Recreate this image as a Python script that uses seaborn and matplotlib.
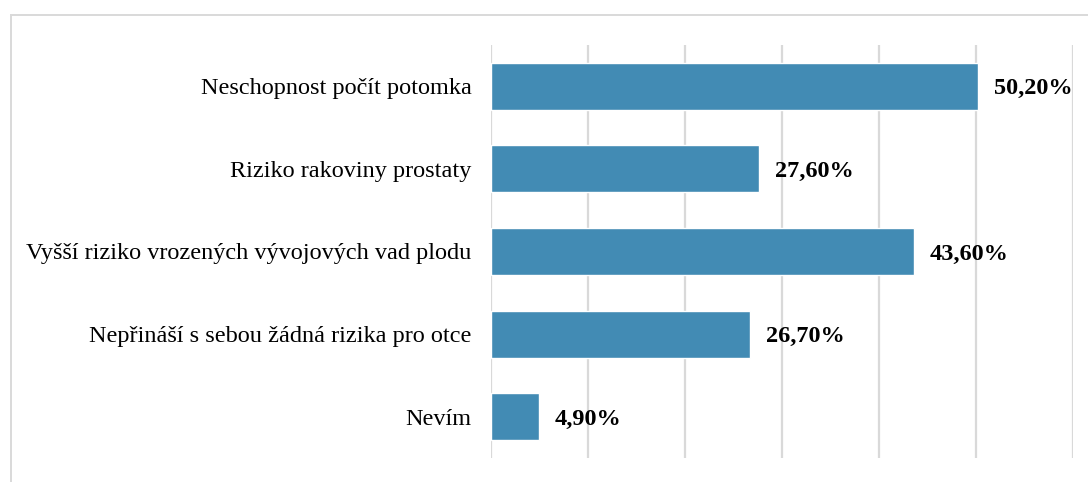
import matplotlib
matplotlib.use("Agg")
import matplotlib.pyplot as plt
import seaborn as sns
import pandas as pd
from matplotlib.patches import Rectangle

# data
categories = [
    "Neschopnost počít potomka",
    "Riziko rakoviny prostaty",
    "Vyšší riziko vrozených vývojových vad plodu",
    "Nepřináší s sebou žádná rizika pro otce",
    "Nevím",
]
values = [50.2, 27.6, 43.6, 26.7, 4.9]
value_labels = ["50,20%", "27,60%", "43,60%", "26,70%", "4,90%"]

df = pd.DataFrame({"kategorie": categories, "procento": values})

sns.set_style("white")
plt.rcParams["font.family"] = ["Liberation Serif", "DejaVu Serif"]
plt.rcParams["text.color"] = "black"
plt.rcParams["ytick.color"] = "black"
plt.rcParams["ytick.labelcolor"] = "black"

fig = plt.figure(figsize=(10.88, 4.82), dpi=100)
ax = fig.add_axes([491 / 1088, 1 - 458 / 482, (1073 - 491) / 1088, (458 - 45) / 482])

sns.barplot(data=df, x="procento", y="kategorie", order=categories,
            color="#428bb4", saturation=1, width=0.57, ax=ax)

ax.set_xlim(0, 60)
ax.set_ylim(4.5, -0.5)
ax.set_xticks(range(0, 61, 10))
ax.grid(axis="x", color="#d9d9d9", linewidth=1.6)
ax.set_axisbelow(True)
ax.set_xticklabels([])
ax.tick_params(axis="y", length=0, pad=14, labelsize=17.5, labelcolor="black")
ax.tick_params(axis="x", length=0)
ax.set_xlabel("")
ax.set_ylabel("")
for s in ax.spines.values():
    s.set_visible(False)

# bold value labels next to the bars
for i, (v, lab) in enumerate(zip(values, value_labels)):
    ax.annotate(lab, (v, i), xytext=(11.5, 0), textcoords="offset points",
                va="center_baseline", ha="left", fontsize=17.5,
                fontweight="bold", color="black")

# light frame around the chart area (cropped at right and bottom)
fig.patches.append(Rectangle((11 / 1088, -0.1), 1.2, 1 - 15 / 482 + 0.1,
                             transform=fig.transFigure, fill=False,
                             edgecolor="#d9d9d9", linewidth=1.4))

fig.savefig("out.png", dpi=100)
